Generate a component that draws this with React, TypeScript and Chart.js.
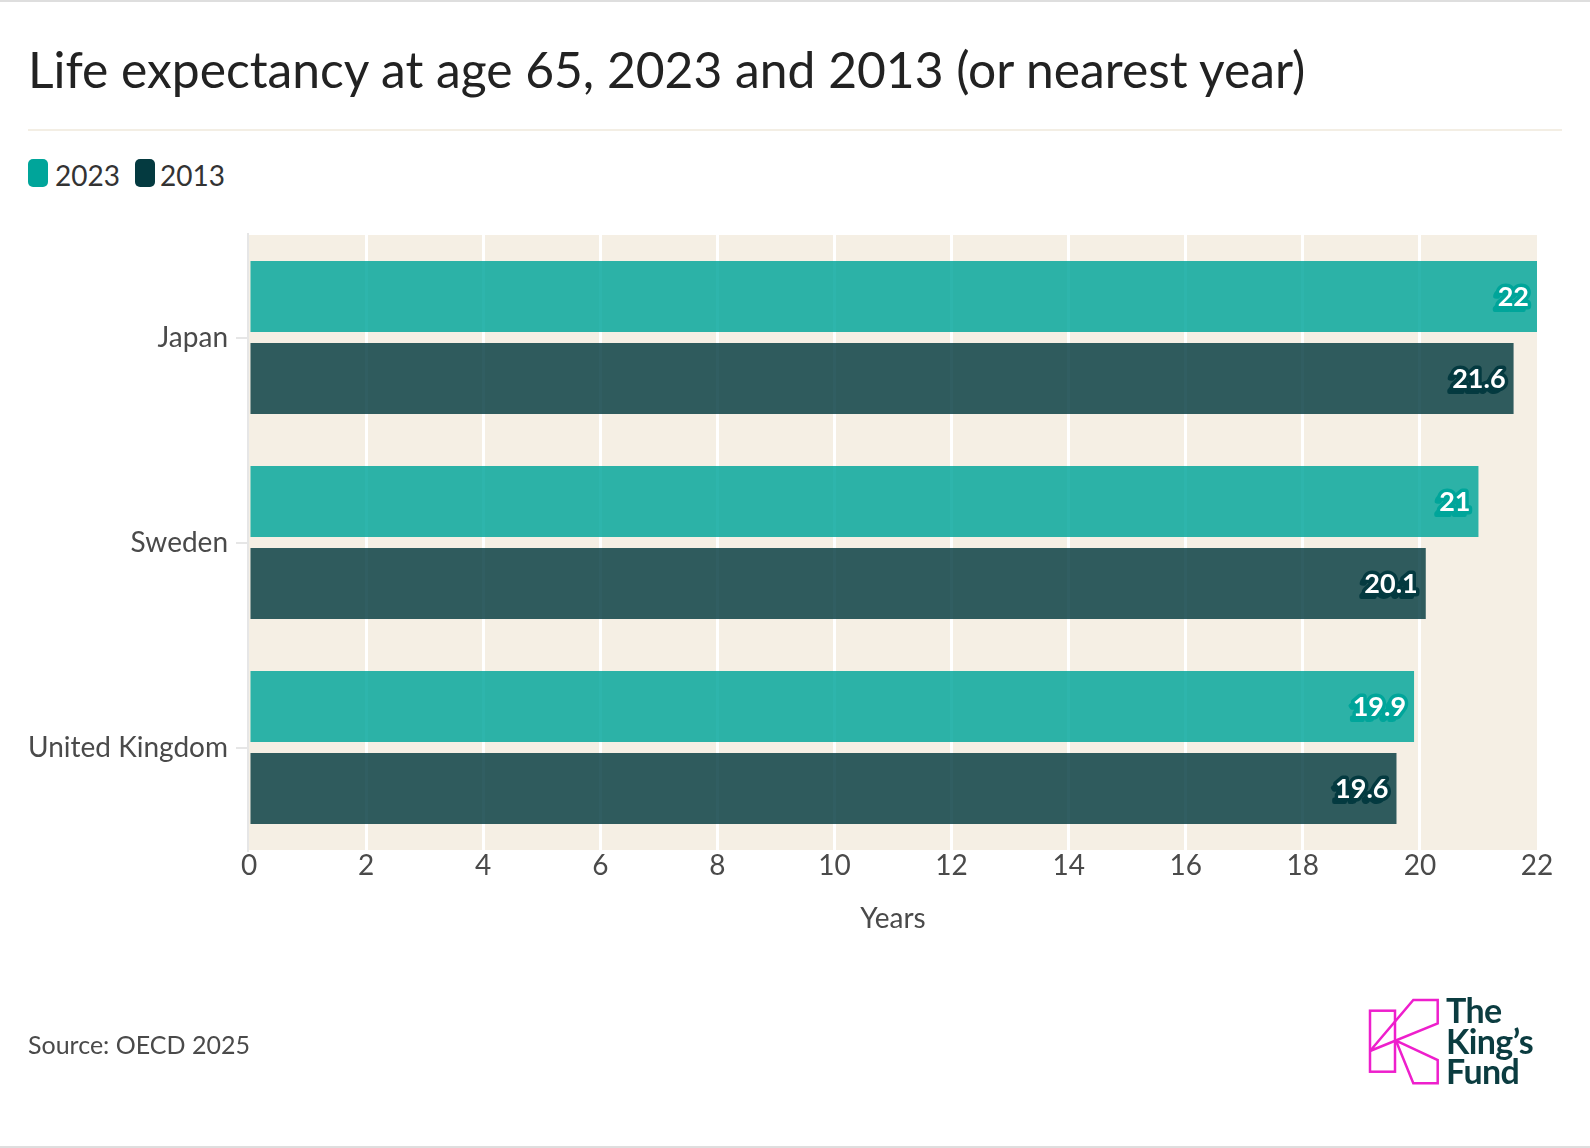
import React, { useEffect, useRef } from "react";
import { Chart, registerables } from "chart.js";

Chart.register(...registerables);

const categories = ["Japan", "Sweden", "United Kingdom"];
const seriesNames = ["2023", "2013"];
const values2023 = [22, 21, 19.9];
const values2013 = [21.6, 20.1, 19.6];
const xMin = 0;
const xMax = 22;
const xStep = 2;

const titleText = "Life expectancy at age 65, 2023 and 2013 (or nearest year)";
const xAxisTitle = "Years";
const sourceText = "Source: OECD 2025";
const logoLines = ["The", "King\u2019s", "Fund"];

const TEAL = "#00a59a";
const DARK = "#043a40";
const TEAL_BAR = "rgba(0,165,154,0.82)";
const DARK_BAR = "rgba(4,58,64,0.82)";
const PLOT_BG = "#f5efe4";
const TEXT = "#4a4a4a";
const AXIS_GRAY = "#e6e6e6";

const bgPlugin = {
  id: "plotBg",
  beforeDraw(chart: any) {
    const { ctx, chartArea } = chart;
    if (!chartArea) return;
    ctx.save();
    ctx.fillStyle = PLOT_BG;
    ctx.fillRect(chartArea.left, chartArea.top, chartArea.right - chartArea.left, chartArea.bottom - chartArea.top);
    ctx.restore();
  },
  afterDraw(chart: any) {
    const { ctx, chartArea } = chart;
    if (!chartArea) return;
    ctx.save();
    ctx.fillStyle = AXIS_GRAY;
    ctx.fillRect(chartArea.left - 2, chartArea.top - 2, 2, chartArea.bottom - chartArea.top + 4);
    ctx.restore();
  },
};

const strokeColors = [TEAL, DARK];

const valueLabelPlugin = {
  id: "valueLabels",
  afterDatasetsDraw(chart: any) {
    const { ctx } = chart;
    ctx.save();
    ctx.font = "bold 27px Lato";
    ctx.textAlign = "right";
    ctx.textBaseline = "middle";
    ctx.lineJoin = "round";
    chart.data.datasets.forEach((ds: any, i: number) => {
      const meta = chart.getDatasetMeta(i);
      meta.data.forEach((bar: any, j: number) => {
        const txt = String(ds.data[j]);
        const x = bar.x - 8;
        const y = bar.y + 1;
        ctx.strokeStyle = strokeColors[i];
        ctx.lineWidth = 4;
        ctx.strokeText(txt, x - 4, y + 4);
        ctx.lineWidth = 7;
        ctx.strokeText(txt, x, y);
        ctx.fillStyle = "#ffffff";
        ctx.fillText(txt, x, y);
      });
    });
    ctx.restore();
  },
};

export default function App() {
  const canvasRef = useRef<HTMLCanvasElement>(null);

  useEffect(() => {
    if (!canvasRef.current) return;
    const font = { family: "Lato", size: 28 };
    const chart = new Chart(canvasRef.current, {
      type: "bar",
      data: {
        labels: categories,
        datasets: [
          {
            label: seriesNames[0],
            data: values2023,
            backgroundColor: TEAL_BAR,
            categoryPercentage: 0.8,
            barPercentage: 0.866,
          },
          {
            label: seriesNames[1],
            data: values2013,
            backgroundColor: DARK_BAR,
            categoryPercentage: 0.8,
            barPercentage: 0.866,
          },
        ],
      },
      options: {
        indexAxis: "y",
        responsive: false,
        animation: false,
        layout: { padding: { left: 0, top: 235, right: 53, bottom: 212 } },
        plugins: {
          legend: { display: false },
          tooltip: { enabled: false },
          title: { display: false },
        },
        scales: {
          x: {
            min: xMin,
            max: xMax,
            ticks: { stepSize: xStep, font, color: TEXT, padding: -1, maxRotation: 0 },
            grid: {
              color: (c: any) =>
                c.tick && (c.tick.value === xMin || c.tick.value === xMax) ? "rgba(0,0,0,0)" : "#ffffff",
              lineWidth: 3,
              drawTicks: false,
            },
            border: { display: false },
            title: { display: true, text: xAxisTitle, font, color: TEXT, padding: 0 },
            afterFit: (s: any) => {
              s.height = 86;
            },
          },
          y: {
            ticks: { font, color: TEXT, padding: 8 },
            grid: {
              drawOnChartArea: false,
              offset: false,
              tickLength: 13,
              color: AXIS_GRAY,
              lineWidth: 2,
            },
            border: { display: false },
            afterFit: (s: any) => {
              s.width = 249;
            },
          },
        },
      } as any,
      plugins: [bgPlugin, valueLabelPlugin],
    });
    return () => chart.destroy();
  }, []);

  const abs = (o: React.CSSProperties): React.CSSProperties => ({ position: "absolute", margin: 0, ...o });

  return (
    <div
      style={{
        position: "absolute",
        left: 0,
        top: 0,
        width: 1590,
        height: 1148,
        background: "#ffffff",
        overflow: "hidden",
        fontFamily: "Lato, sans-serif",
      }}
    >
      <div style={abs({ left: 0, top: 0, width: 1590, height: 2, background: "#dedede" })} />
      <div style={abs({ left: 0, top: 1146, width: 1590, height: 2, background: "#dedede" })} />
      <div
        style={abs({
          left: 28,
          top: 44.8,
          fontSize: 49.75,
          lineHeight: "49.75px",
          color: "#222222",
          whiteSpace: "nowrap",
        })}
      >
        {titleText}
      </div>
      <div style={abs({ left: 28, top: 129, width: 1534, height: 2, background: "#f3eee4" })} />

      <div style={abs({ left: 28, top: 159, width: 20, height: 28, borderRadius: 5, background: TEAL })} />
      <div style={abs({ left: 55, top: 160.8, fontSize: 28, lineHeight: "28px", color: "#333333" })}>
        {seriesNames[0]}
      </div>
      <div style={abs({ left: 135, top: 159, width: 20, height: 28, borderRadius: 5, background: DARK })} />
      <div style={abs({ left: 160, top: 160.8, fontSize: 28, lineHeight: "28px", color: "#333333" })}>
        {seriesNames[1]}
      </div>

      <canvas
        ref={canvasRef}
        width={1590}
        height={1148}
        style={{ position: "absolute", left: 0, top: 0, width: 1590, height: 1148 }}
      />

      <div style={abs({ left: 28, top: 1031.8, fontSize: 25, lineHeight: "25px", color: "#4a4a4a" })}>
        {sourceText}
      </div>

      <svg
        width={1590}
        height={1148}
        style={{ position: "absolute", left: 0, top: 0, pointerEvents: "none" }}
      >
        <g fill="none" stroke="#ee1fcc" strokeWidth={2.5} strokeLinejoin="miter">
          <rect x={1370} y={1010.7} width={25} height={61} />
          <polyline points="1370,1051 1413.3,1000 1437.7,1000 1437.7,1023.3 1370,1051" />
          <polyline points="1396,1040.7 1437.7,1060 1437.7,1083.3 1413.3,1083.3 1396,1040.7" />
        </g>
        <g fill="#0b3c40" fontFamily="Lato" fontWeight="bold" fontSize={34} letterSpacing={-0.6}>
          <text x={1446} y={1023}>{logoLines[0]}</text>
          <text x={1446} y={1053.5}>{logoLines[1]}</text>
          <text x={1446} y={1084}>{logoLines[2]}</text>
        </g>
      </svg>
    </div>
  );
}
